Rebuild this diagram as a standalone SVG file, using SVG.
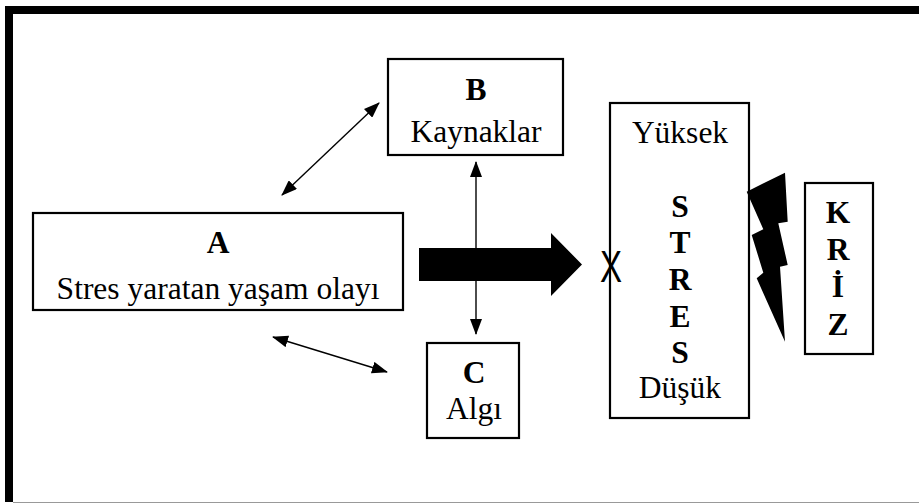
<svg xmlns="http://www.w3.org/2000/svg" width="919" height="504" viewBox="0 0 919 504">
  <style>
    .box { fill: #fff; stroke: #000; stroke-width: 2.2; }
    .t { font-family: 'Liberation Serif', serif; font-size: 31.5px; fill: #000; text-anchor: middle; }
    .b { font-weight: bold; }
    .link { stroke: #000; stroke-width: 1.4; fill: none; marker-start: url(#head); marker-end: url(#head); }
  </style>
  <defs>
    <marker id="head" viewBox="0 0 16 12" refX="15" refY="6" markerWidth="16" markerHeight="12" markerUnits="userSpaceOnUse" orient="auto-start-reverse">
      <path d="M0,0 L16,6 L0,12 Z" fill="#000"/>
    </marker>
  </defs>

  <!-- page frame: heavy top and left edges, hairline bottom -->
  <rect width="919" height="504" fill="#fff"/>
  <g id="frame">
    <rect x="5" y="6" width="914" height="8" fill="#000"/>
    <rect x="5" y="6" width="8" height="496" fill="#000"/>
    <line x1="13" y1="502.5" x2="919" y2="502.5" stroke="#999" stroke-width="1"/>
  </g>

  <g id="connectors">
    <line class="link" x1="282" y1="195" x2="379" y2="103"/>
    <line class="link" x1="273" y1="337" x2="387" y2="372"/>
    <line class="link" x1="476" y1="162" x2="476" y2="334"/>
    <!-- broad arrow from A toward the stress scale -->
    <polygon points="419,248 551,248 551,233 582,264.5 551,296 551,281 419,281" fill="#000"/>
  </g>

  <g id="nodeA">
    <rect class="box" x="33" y="213" width="370" height="97"/>
    <text class="t b" x="218" y="253" font-family="Liberation Serif">A</text>
    <text class="t" x="218" y="299" font-family="Liberation Serif">Stres yaratan yaşam olayı</text>
  </g>

  <g id="nodeB">
    <rect class="box" x="388" y="59" width="175" height="96"/>
    <text class="t b" x="476" y="100">B</text>
    <text class="t" x="476" y="142">Kaynaklar</text>
  </g>

  <g id="nodeC">
    <rect class="box" x="427" y="343" width="92" height="95" stroke-width="3"/>
    <text class="t b" x="474" y="383">C</text>
    <text class="t" x="474" y="419">Algı</text>
  </g>

  <g id="nodeStres">
    <rect class="box" x="610" y="103" width="139" height="315"/>
    <text class="t" x="680" y="143">Yüksek</text>
    <text class="t b" x="680" y="217">S</text>
    <text class="t b" x="680" y="253">T</text>
    <text class="t b" x="680" y="290">R</text>
    <text class="t b" x="680" y="327">E</text>
    <text class="t b" x="680" y="363">S</text>
    <text class="t" x="680" y="398">Düşük</text>
    <text x="611" y="282" font-family="'Liberation Sans', sans-serif" font-size="44" text-anchor="middle" transform="translate(611 0) scale(0.75 1) translate(-611 0)">X</text>
  </g>

  <g id="bolt">
    <polygon points="746.7,191.7 785,172.7 787.7,221.7 778.3,223.3 787.7,265 780,266.7 785,341.7 756.7,278.3 763.3,272.7 751.7,235 763.3,229.3" fill="#000"/>
  </g>

  <g id="nodeKriz">
    <rect class="box" x="805" y="183" width="68" height="171"/>
    <text class="t b" x="838" y="223">K</text>
    <text class="t b" x="838" y="260">R</text>
    <text class="t b" x="838" y="297">İ</text>
    <text class="t b" x="838" y="335">Z</text>
  </g>
</svg>
